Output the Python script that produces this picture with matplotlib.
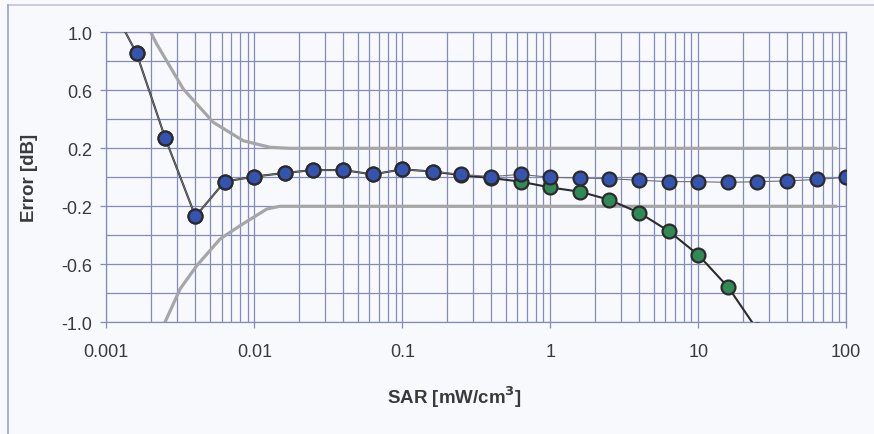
import matplotlib.pyplot as plt
from matplotlib.lines import Line2D
from matplotlib.ticker import FixedLocator, NullFormatter

plt.rcParams['font.family'] = ['Liberation Sans', 'DejaVu Sans']

# SAR steps, 5 per decade
sar = [0.001, 0.0016, 0.0025, 0.004, 0.0063, 0.01, 0.016, 0.025, 0.04, 0.063,
       0.1, 0.16, 0.25, 0.4, 0.63, 1, 1.6, 2.5, 4, 6.3,
       10, 16, 25, 40, 63, 100]

# blue series (thin line)
err_blue = [1.25, 0.855, 0.27, -0.27, -0.03, 0.005, 0.03, 0.05, 0.05, 0.02,
            0.055, 0.04, 0.02, 0.005, 0.02, 0.0, -0.005, -0.01, -0.02, -0.03,
            -0.03, -0.035, -0.03, -0.025, -0.015, 0.0]

# green series (thick line), ends below the axis
sar_green = sar[:23]
err_green = [1.25, 0.855, 0.27, -0.27, -0.03, 0.005, 0.03, 0.05, 0.05, 0.02,
             0.055, 0.04, 0.015, -0.005, -0.03, -0.07, -0.10, -0.155, -0.245, -0.37,
             -0.535, -0.76, -1.05]

# uncertainty limits (grey)
sar_upper = [0.00192, 0.00219, 0.00331, 0.00528, 0.00843, 0.01277, 0.0174, 85]
lim_upper = [1.034, 0.919, 0.609, 0.379, 0.252, 0.207, 0.2, 0.2]
sar_lower = [0.00243, 0.00315, 0.00408, 0.00586, 0.0080, 0.01213, 0.01485, 85]
lim_lower = [-1.023, -0.77, -0.61, -0.426, -0.334, -0.219, -0.2, -0.2]

bg = '#f8f9fd'
grid_c = '#848bba'
text_c = '#3a3a3a'

fig = plt.figure(figsize=(8.74, 4.35), dpi=100, facecolor=bg)
ax = fig.add_axes([0.1217, 0.2568, 0.8465, 0.6666], facecolor=bg)

ax.plot(sar_upper, lim_upper, color='#a6a6a6', lw=2.3, zorder=2)
ax.plot(sar_lower, lim_lower, color='#a6a6a6', lw=2.3, zorder=2)

ax.plot(sar_green, err_green, color='#2b2b2b', lw=1.5, marker='o', ms=10,
        mfc='#2f8a55', mec='#2b2b2b', mew=1.6, zorder=3)
ax.plot(sar, err_blue, color='#707070', lw=0.8, marker='o', ms=10,
        mfc='#3553b0', mec='#2b2b2b', mew=1.6, zorder=4)

ax.set_xscale('log')
ax.set_xlim(0.001, 100)
ax.set_ylim(-1.0, 1.0)

ax.set_xticks([0.001, 0.01, 0.1, 1, 10, 100])
ax.set_xticklabels(['0.001', '0.01', '0.1', '1', '10', '100'])
ax.xaxis.set_minor_locator(FixedLocator([m * 10.0 ** e for e in range(-3, 2) for m in range(2, 10)]))
ax.xaxis.set_minor_formatter(NullFormatter())
ax.set_yticks([-1.0, -0.6, -0.2, 0.2, 0.6, 1.0])
ax.set_yticklabels(['-1.0', '-0.6', '-0.2', '0.2', '0.6', '1.0'])
ax.yaxis.set_minor_locator(FixedLocator([-0.8, -0.4, 0.0, 0.4, 0.8]))

ax.grid(True, which='both', color=grid_c, lw=0.9)
ax.set_axisbelow(True)
ax.tick_params(which='major', length=4, width=0.9, color=grid_c, labelsize=13,
               labelcolor=text_c)
ax.tick_params(axis='x', which='major', pad=11)
ax.tick_params(axis='y', which='major', pad=6)
ax.tick_params(which='minor', length=0)
for s in ax.spines.values():
    s.set_color(grid_c)
    s.set_linewidth(0.9)

ax.set_xlabel('SAR [mW/cm$^\\mathbf{3}$]', fontsize=13.5, fontweight='bold', color=text_c)
ax.xaxis.set_label_coords(0.471, -0.212)
ax.set_ylabel('Error [dB]', fontsize=13.5, fontweight='bold', color=text_c)
ax.yaxis.set_label_coords(-0.093, 0.5)

# chart area border (top and left visible)
fig.add_artist(Line2D([8 / 874, 1.0], [1 - 6 / 435, 1 - 6 / 435], color='#c9bfe0', lw=1.2))
fig.add_artist(Line2D([8 / 874, 8 / 874], [0.0, 1 - 6 / 435], color='#9aa0cc', lw=1.2))

fig.savefig('out.png', dpi=100, facecolor=bg)
